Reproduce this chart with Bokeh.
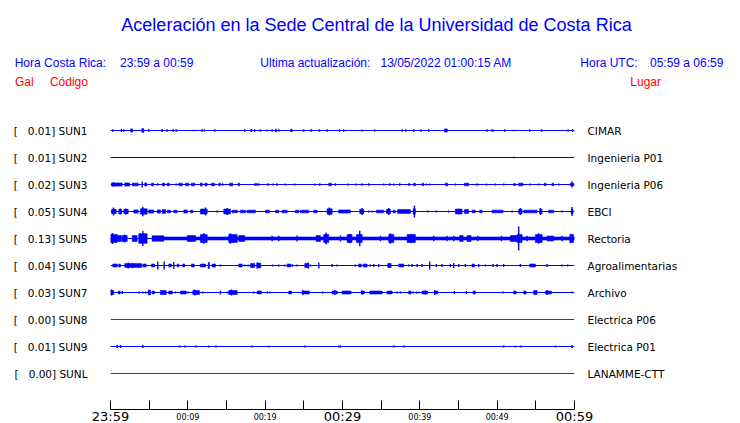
from bokeh.plotting import figure
from bokeh.layouts import column
from bokeh.models import Range1d, FixedTicker, Label, LinearAxis
from bokeh.embed import file_html
from bokeh.resources import INLINE
from bokeh.core.properties import value

# ---------------- data ----------------
codes = ["SUN1", "SUN2", "SUN3", "SUN4", "SUN5", "SUN6", "SUN7", "SUN8", "SUN9", "SUNL"]
places = ["CIMAR", "Ingenieria P01", "Ingenieria P06", "EBCI", "Rectoria",
          "Agroalimentarias", "Archivo", "Electrica P06", "Electrica P01", "LANAMME-CTT"]
peak_gal = [0.01, 0.01, 0.02, 0.05, 0.13, 0.04, 0.03, 0.00, 0.01, 0.00]

window_start = 0.0   # minutes after 23:59
window_end = 60.0
tick_minutes = [0, 5, 10, 15, 20, 25, 30, 35, 40, 45, 50, 55, 60]
small_tick_minutes = [10, 20, 40, 50]
small_tick_labels = ["00:09", "00:19", "00:39", "00:49"]
big_tick_minutes = [0, 30, 60]
big_tick_labels = ["23:59", "00:29", "00:59"]

# bursts: (start_min, end_min, half amplitude in trace units); spikes: (min, half amplitude)
sun1_blocks = [(2.6, 2.85, .06), (4.05, 4.3, .07), (21.3, 21.5, .05), (23.3, 23.5, .05), (43.2, 43.55, .06)]
sun1_spikes = [(0.30, .05), (1.42, .06), (1.72, .05), (4.95, .05), (6.68, .06), (7.33, .05), (8.11, .05),
               (8.50, .05), (10.75, .03), (11.85, .05), (12.15, .04), (13.48, .05), (17.36, .05), (18.23, .06),
               (18.65, .05), (19.39, .05), (20.26, .04), (20.90, .05), (21.76, .05), (24.99, .05), (25.98, .05),
               (27.02, .05), (28.01, .05), (29.60, .05), (30.16, .05), (32.54, .04), (34.17, .04), (37.71, .05),
               (38.17, .05), (39.21, .05), (40.16, .05), (41.15, .05), (48.69, .05), (49.34, .05), (49.55, .04),
               (50.97, .05), (52.13, .03), (54.20, .05), (55.75, .05), (59.17, .05), (59.76, .05)]
sun2_blocks = []
sun2_spikes = [(52.13, .03)]
sun3_blocks = [(0.13, 1.51, .06), (1.85, 2.46, .06), (2.81, 3.58, .05), (4.43, 4.69, .06), (5.30, 5.60, .05),
               (6.68, 7.02, .05), (7.33, 7.63, .05), (8.83, 9.27, .05), (9.70, 10.12, .05), (10.47, 10.90, .05),
               (11.63, 11.85, .06), (12.19, 12.50, .05), (13.06, 13.48, .05), (14.0, 14.22, .05), (15.38, 15.81, .05),
               (16.51, 16.71, .05), (18.65, 18.96, .04), (28.22, 28.57, .05), (38.56, 38.69, .05), (39.21, 39.43, .05),
               (40.29, 40.50, .05), (43.31, 43.60, .05), (45.76, 46.32, .05), (52.13, 52.35, .04), (52.78, 53.35, .05),
               (56.10, 56.32, .05), (57.10, 57.31, .05), (59.46, 59.89, .05)]
sun3_spikes = [(0.39, .08), (4.10, .11), (6.11, .05), (8.49, .04), (14.52, .05), (19.17, .05), (20.39, .05),
               (21.03, .04), (21.55, .05), (22.62, .04), (23.82, .04), (26.41, .04), (27.06, .05), (29.09, .05),
               (30.68, .04), (31.76, .04), (32.54, .05), (33.39, .05), (35.33, .04), (36.11, .05), (36.62, .04),
               (37.40, .05), (40.85, .04), (41.28, .04), (44.60, .04), (47.40, .05), (48.61, .04), (49.77, .04),
               (50.84, .04), (54.29, .04), (55.37, .04), (57.95, .04), (59.68, .11)]
sun4_blocks = [(0.13, 0.74, .08), (1.07, 1.42, .08), (1.72, 2.29, .08), (3.01, 3.58, .06), (3.88, 4.74, .10),
               (4.95, 5.60, .06), (6.04, 6.46, .06), (6.68, 7.11, .07), (7.33, 7.76, .05), (8.18, 8.62, .05),
               (9.48, 9.92, .06), (10.34, 10.64, .05), (11.63, 12.50, .09), (14.65, 15.51, .09), (15.73, 16.38, .05),
               (16.81, 17.45, .05), (17.67, 18.74, .05), (20.04, 20.55, .05), (21.33, 21.76, .05), (22.20, 22.84, .05),
               (23.91, 24.34, .05), (24.56, 25.63, .05), (26.28, 26.72, .05), (28.01, 28.66, .10), (29.51, 31.02, .06),
               (32.23, 32.74, .08), (34.39, 35.33, .05), (35.68, 36.20, .08), (36.54, 36.84, .05), (37.14, 38.78, .07),
               (39.13, 39.43, .10), (44.60, 45.46, .09), (45.76, 46.32, .07), (46.76, 47.18, .05), (47.74, 48.05, .05),
               (49.34, 50.76, .05), (52.78, 53.22, .08), (53.43, 55.16, .05), (55.50, 55.81, .08), (56.66, 57.31, .05),
               (59.56, 59.81, .08)]
sun4_spikes = [(0.39, .15), (1.29, .11), (2.0, .11), (4.18, .18), (12.28, .15), (13.79, .04), (15.09, .13),
               (28.31, .15), (32.54, .13), (33.39, .04), (33.83, .04), (35.98, .13), (39.30, .22), (41.02, .04),
               (42.14, .04), (43.73, .04), (45.03, .10), (51.93, .04), (53.0, .13), (55.59, .13), (58.39, .04),
               (59.68, .17)]
sun5_blocks = [(5.4, 60.0, .055), (0.0, 0.87, .15), (0.87, 1.42, .11), (1.51, 2.16, .11), (2.81, 3.45, .11),
               (3.66, 4.74, .18), (5.39, 6.89, .10), (9.92, 10.99, .11), (11.63, 12.50, .15), (15.29, 16.38, .15),
               (16.59, 17.36, .11), (26.59, 27.15, .11), (27.57, 28.22, .15), (30.60, 31.24, .15), (31.80, 32.54, .15),
               (35.98, 36.62, .15), (38.36, 39.43, .15), (45.15, 45.59, .11), (46.11, 46.63, .11), (51.71, 52.57, .11),
               (52.57, 53.22, .15), (54.94, 55.81, .15), (56.45, 57.31, .09), (59.38, 59.89, .15)]
sun5_spikes = [(0.26, .20), (1.81, .15), (4.18, .28), (12.06, .19), (15.51, .19), (20.90, .10), (21.76, .10),
               (24.13, .11), (27.88, .22), (29.73, .11), (30.93, .17), (32.23, .29), (34.90, .10), (36.20, .19),
               (38.87, .17), (41.79, .10), (43.53, .10), (44.38, .10), (47.48, .10), (50.55, .10), (52.78, .44),
               (53.87, .10), (55.37, .19), (58.39, .10), (59.59, .17)]
sun6_blocks = [(0.30, 0.87, .055), (1.07, 1.29, .055), (1.85, 4.01, .07), (4.18, 4.61, .055), (5.30, 5.69, .055),
               (7.54, 7.89, .055), (8.62, 8.83, .055), (9.35, 9.60, .055), (10.47, 10.82, .055), (11.63, 12.28, .055),
               (12.63, 12.80, .11), (13.15, 13.57, .055), (16.59, 17.02, .055), (18.10, 18.65, .075), (18.96, 19.43, .09),
               (22.84, 23.27, .055), (25.12, 25.63, .075), (32.10, 32.41, .055), (32.67, 33.18, .055),
               (35.85, 36.29, .075), (37.27, 37.92, .055), (46.76, 47.05, .055), (54.20, 54.94, .055)]
sun6_spikes = [(2.29, .11), (2.88, .09), (6.11, .15), (6.94, .15), (8.18, .13), (14.22, .04), (17.36, .04),
               (17.80, .04), (18.96, .11), (20.98, .04), (21.76, .04), (22.53, .04), (23.49, .055), (24.13, .04),
               (25.56, .11), (25.85, .04), (26.93, .11), (28.66, .055), (29.31, .04), (31.67, .04), (33.61, .04),
               (34.04, .055), (34.68, .055), (38.56, .04), (39.0, .055), (39.65, .055), (40.29, .055), (41.28, .15),
               (42.14, .055), (42.88, .055), (43.95, .055), (44.38, .09), (45.03, .055), (45.89, .055), (47.61, .055),
               (48.48, .04), (49.47, .055), (49.99, .055), (50.84, .055), (53.0, .055), (56.45, .055), (58.39, .04),
               (59.12, .04)]
sun7_blocks = [(0.0, 0.43, .075), (1.0, 1.25, .055), (4.87, 5.17, .09), (5.39, 5.69, .055), (6.46, 7.20, .075),
               (7.54, 7.98, .055), (9.05, 9.79, .055), (10.64, 11.50, .075), (15.29, 16.38, .075), (18.96, 19.52, .055),
               (23.05, 23.40, .055), (24.78, 25.72, .055), (28.66, 29.31, .055), (29.95, 31.11, .055),
               (32.41, 32.83, .055), (33.52, 35.12, .055), (35.77, 36.42, .055), (38.56, 38.87, .055),
               (40.29, 41.02, .055), (41.92, 42.31, .055), (46.89, 47.18, .055), (52.13, 52.44, .055),
               (53.43, 53.74, .055), (54.72, 55.16, .075), (56.23, 57.01, .055)]
sun7_spikes = [(0.13, .11), (1.51, .055), (3.66, .04), (4.18, .04), (4.52, .04), (8.40, .04), (10.04, .04),
               (10.90, .11), (11.93, .04), (14.22, .075), (15.09, .04), (15.64, .11), (18.52, .04), (20.26, .04),
               (20.59, .04), (24.86, .09), (27.44, .04), (29.0, .09), (32.54, .075), (37.06, .04), (37.49, .04),
               (39.13, .04), (39.56, .04), (39.86, .04), (40.72, .075), (41.92, .09), (44.47, .055), (46.02, .055),
               (50.76, .04), (56.45, .09), (59.68, .04)]
sun8_blocks = []
sun8_spikes = []
sun9_blocks = []
sun9_spikes = [(0.87, .055), (1.29, .055), (4.18, .055), (8.92, .04), (9.60, .04), (11.08, .04), (12.71, .04),
               (13.66, .04), (18.32, .04), (20.46, .04), (25.12, .04), (29.51, .04), (29.73, .04), (36.62, .04),
               (37.92, .04), (50.84, .04), (52.35, .04), (53.09, .04), (57.53, .04), (59.68, .055)]
sunl_blocks = []
sunl_spikes = []

all_blocks = [sun1_blocks, sun2_blocks, sun3_blocks, sun4_blocks, sun5_blocks,
              sun6_blocks, sun7_blocks, sun8_blocks, sun9_blocks, sunl_blocks]
all_spikes = [sun1_spikes, sun2_spikes, sun3_spikes, sun4_spikes, sun5_spikes,
              sun6_spikes, sun7_spikes, sun8_spikes, sun9_spikes, sunl_spikes]

# ---------------- styles / layout ----------------
BLUE = "#0000ff"
RED = "#dd0000"
HEAD_BLUE = "#0000ff"
HEAD_RED = "#ff0000"
trace_colors = [BLUE, BLUE, BLUE, BLUE, BLUE, BLUE, BLUE, RED, BLUE, RED]
LBL_FONT = "DejaVu Sans"
HEAD_FONT = "Liberation Sans"

W = 740
HEAD_H, MAIN_H, FOOT_H = 100, 300, 23
FL, FR = 110, 574            # frame left/right (canvas px)
MAIN_TOP_BORDER = 14
TICK_LEN = 9
PPM = (FR - FL) / (window_end - window_start)   # pixels per minute
n = len(codes)


def bare(fig):
    fig.outline_line_color = None
    fig.grid.visible = False
    fig.background_fill_color = "white"
    fig.border_fill_color = "white"
    fig.frame_align = False
    return fig


# ---------- header ----------
head = bare(figure(width=W, height=HEAD_H, output_backend="svg", toolbar_location=None,
                   x_range=Range1d(0, W), y_range=Range1d(HEAD_H, 0),
                   x_axis_location=None, y_axis_location=None,
                   min_border=0, title=None))


def htext(txt, x, y, color, size="12px", align="left"):
    head.add_layout(Label(x=x, y=y, text=txt, text_align=align, text_baseline="middle",
                          text_font=HEAD_FONT, text_font_size=size, text_color=color))


htext("Aceleración en la Sede Central de la Universidad de Costa Rica", 376, 24.0, HEAD_BLUE, "18px", "center")
htext("Hora Costa Rica:", 14.2, 62.1, HEAD_BLUE)
htext("23:59 a 00:59", 119.5, 62.1, HEAD_BLUE)
htext("Ultima actualización:", 259.8, 62.1, HEAD_BLUE)
htext("13/05/2022 01:00:15 AM", 380, 62.1, HEAD_BLUE)
htext("Hora UTC:", 579.8, 62.1, HEAD_BLUE)
htext("05:59 a 06:59", 649.5, 62.1, HEAD_BLUE)
htext("Gal", 14.4, 81.6, HEAD_RED)
htext("Código", 49.4, 81.6, HEAD_RED)
htext("Lugar", 629.8, 81.6, HEAD_RED)

# ---------- main traces ----------
p = bare(figure(width=W, height=MAIN_H, output_backend="svg", toolbar_location=None,
                x_range=Range1d(window_start, window_end),
                y_range=Range1d(-1.0, (n - 1) + 16 / 27),
                x_axis_location=None,
                min_border_left=FL, min_border_right=W - FR,
                min_border_top=MAIN_TOP_BORDER, min_border_bottom=0,
                title=None))

for i in range(n):
    y0 = n - 1 - i
    c = trace_colors[i]
    p.line([window_start, window_end], [y0, y0], line_color=c, line_width=1)
    blk = all_blocks[i]
    if blk:
        p.quad(left=[b[0] for b in blk], right=[b[1] for b in blk],
               bottom=[y0 - b[2] for b in blk], top=[y0 + b[2] for b in blk],
               fill_color=c, line_color=c, line_width=0.6)
    spk = all_spikes[i]
    if spk:
        p.segment(x0=[s[0] for s in spk], x1=[s[0] for s in spk],
                  y0=[y0 - s[1] for s in spk], y1=[y0 + s[1] for s in spk],
                  line_color=c, line_width=1.4)

# left axis: gain and station code
yl = p.yaxis[0]
yl.ticker = FixedTicker(ticks=list(range(n)))
yl.major_label_overrides = {n - 1 - i: "[\u00a0\u00a0\u00a0%.2f] %s" % (peak_gal[i], codes[i]) for i in range(n)}
yl.axis_line_color = None
yl.major_tick_line_color = None
yl.minor_tick_line_color = None
yl.major_tick_out = 0
yl.major_tick_in = 0
yl.major_label_standoff = 23
yl.major_label_text_font = LBL_FONT
yl.major_label_text_font_size = "10.5px"
yl.major_label_text_color = "black"

# right axis: place names
yr = LinearAxis(ticker=FixedTicker(ticks=list(range(n))))
yr.major_label_overrides = {n - 1 - i: places[i] for i in range(n)}
yr.axis_line_color = None
yr.major_tick_line_color = None
yr.minor_tick_line_color = None
yr.major_tick_out = 0
yr.major_tick_in = 0
yr.major_label_standoff = 13
yr.major_label_text_font = LBL_FONT
yr.major_label_text_font_size = "10.5px"
yr.major_label_text_color = "black"
p.add_layout(yr, "right")

# ---------- footer: time axis (line + upward ticks) and tick labels ----------
foot = bare(figure(width=W, height=FOOT_H, output_backend="svg", toolbar_location=None,
                   x_range=Range1d(window_start - FL / PPM, window_start + (W - FL) / PPM),
                   y_range=Range1d(FOOT_H - TICK_LEN, 0),
                   x_axis_location=None, y_axis_location=None,
                   min_border_left=0, min_border_right=0, min_border_bottom=0,
                   min_border_top=TICK_LEN, title=None))
xa = LinearAxis(ticker=FixedTicker(ticks=tick_minutes), bounds=(window_start, window_end))
xa.major_label_overrides = {t: "" for t in tick_minutes}
xa.major_label_text_font_size = "0px"
xa.major_label_standoff = 0
xa.major_tick_out = TICK_LEN
xa.major_tick_in = 0
xa.minor_tick_line_color = None
xa.axis_line_color = "black"
xa.major_tick_line_color = "black"
foot.add_layout(xa, "above")

foot.text(x=small_tick_minutes, y=[8.1] * len(small_tick_minutes), text=small_tick_labels,
          text_align="center", text_baseline="middle",
          text_font=value(LBL_FONT), text_font_size="8px", text_color="black")
foot.text(x=big_tick_minutes, y=[7.4] * len(big_tick_minutes), text=big_tick_labels,
          text_align="center", text_baseline="middle",
          text_font=value(LBL_FONT), text_font_size="13px", text_color="black")

layout = column(head, p, foot, spacing=0)
open("out.html", "w").write(file_html(layout, INLINE))
